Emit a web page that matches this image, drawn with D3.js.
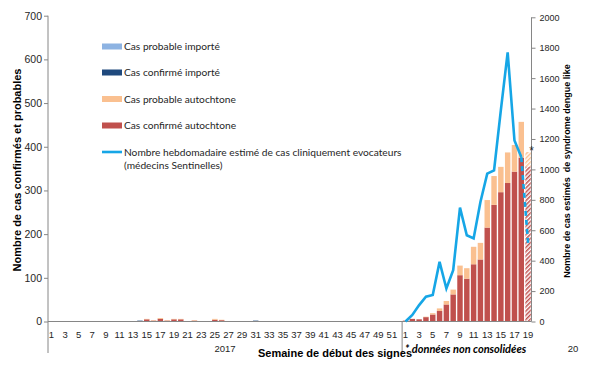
<!DOCTYPE html>
<html><head><meta charset="utf-8">
<script src="https://cdn.jsdelivr.net/npm/d3@7/dist/d3.min.js"></script>
<style>body{margin:0;background:#fff}svg{display:block}</style>
</head><body>
<svg id="chart" width="600" height="366"></svg>
<script>
// ---------- DATA ----------
const weeks2017 = [1,2,3,4,5,6,7,8,9,10,11,12,13,14,15,16,17,18,19,20,21,22,23,24,25,26,27,28,29,30,31,32,33,34,35,36,37,38,39,40,41,42,43,44,45,46,47,48,49,50,51,52];
const weeks2018 = [1,2,3,4,5,6,7,8,9,10,11,12,13,14,15,16,17,18,19];
const years = ["2017", "2018"];
const categories = weeks2017.map(w => "2017-" + w).concat(weeks2018.map(w => "2018-" + w));
const provisionalWeeks = ["2018-19"];

const confirmedAutochtone = [
  0,0,0,0,0,0,0,0,0,0, 0,0,0,0,5,2,6,2,5,5, 1,2,0,0,4,3,0,0,0,0, 1,0,0,0,0,0,0,0,0,0, 0,0,0,0,0,0,0,0,0,0, 0,0,
  2,6,5,10,16,24,39,62,106,98,131,142,215,267,296,317,343,375,355];
const probableAutochtone = [
  0,0,0,0,0,0,0,0,0,0, 0,0,1,0,1,1,2,1,1,1, 0,1,1,0,2,1,1,0,1,0, 0,0,1,0,0,1,0,0,0,0, 0,0,0,0,0,0,0,0,0,0, 0,0,
  0,0,0,1,3,6,8,11,22,24,40,38,63,66,58,70,61,82,33];
const confirmedImported = [
  0,0,1,0,0,0,1,0,1,0, 0,1,0,2,0,0,0,0,0,0, 0,0,0,0,0,0,0,1,0,0, 1,0,0,0,1,0,0,0,0,1, 0,0,0,0,0,0,1,0,1,0, 0,0,
  0,0,0,0,0,0,0,0,0,0,0,0,0,0,0,0,0,0,0];
const probableImported = [
  0,0,0,0,1,0,0,0,0,0, 1,0,0,0,0,0,0,0,0,0, 0,0,0,1,0,0,0,0,0,1, 0,0,0,0,0,0,0,1,0,0, 0,0,0,1,0,0,0,0,0,0, 1,0,
  0,0,0,0,0,0,0,0,0,0,0,0,0,0,0,0,0,0,0];
const sentinelEstimate = [
  null,null,null,null,null,null,null,null,null,null, null,null,null,null,null,null,null,null,null,null,
  null,null,null,null,null,null,null,null,null,null, null,null,null,null,null,null,null,null,null,null,
  null,null,null,null,null,null,null,null,null,null, null,null,
  0,43,108,163,174,392,217,338,749,567,546,786,972,993,1390,1770,1190,1081,515];

const leftTicks = [0,100,200,300,400,500,600,700];
const rightTicks = [0,200,400,600,800,1000,1200,1400,1600,1800,2000];

const seriesNames = {
  probImp: "Cas probable importé",
  confImp: "Cas confirmé importé",
  probAuto: "Cas probable autochtone",
  confAuto: "Cas confirmé autochtone",
  line1: "Nombre hebdomadaire estimé de cas cliniquement evocateurs",
  line2: "(médecins Sentinelles)"
};

// ---------- CHART ----------
const svg = d3.select("#chart");
const colors = {confAuto:"#c0504d", probAuto:"#fac090", confImp:"#1f497d", probImp:"#8db3e2", line:"#16a6e6"};
const axisColor = "#868686", textColor = "#262626";
const x0 = 48, x1 = 531.5, yBase = 321.5;
const arial = "Liberation Sans, Arial, sans-serif";

const defs = svg.append("defs");
[["hatchRed", colors.confAuto], ["hatchOrange", colors.probAuto]].forEach(([id, c]) => {
  const p = defs.append("pattern").attr("id", id).attr("patternUnits", "userSpaceOnUse")
    .attr("width", 3).attr("height", 3).attr("patternTransform", "rotate(45)");
  p.append("rect").attr("width", 3).attr("height", 3).attr("fill", "#fff");
  p.append("rect").attr("width", 1.5).attr("height", 3).attr("fill", c);
});

const x = d3.scaleBand().domain(categories).range([x0, x1]).paddingInner(0.2).paddingOuter(0.1);
const yL = d3.scaleLinear().domain([0, 700]).range([yBase, 15.7]);
const yR = d3.scaleLinear().domain([0, 2000]).range([yBase, 17.3]);

const rows = categories.map((c, i) => ({
  cat: c, confAuto: confirmedAutochtone[i], probAuto: probableAutochtone[i],
  confImp: confirmedImported[i], probImp: probableImported[i]
}));
const keys = ["confAuto", "probAuto", "confImp", "probImp"];
const stacked = d3.stack().keys(keys)(rows);

svg.append("g").selectAll("g").data(stacked).join("g")
  .each(function(layer) {
    d3.select(this).selectAll("rect").data(layer.filter(d => d[1] > d[0])).join("rect")
      .attr("x", d => x(d.data.cat))
      .attr("width", x.bandwidth())
      .attr("y", d => yL(d[1]))
      .attr("height", d => yL(d[0]) - yL(d[1]))
      .attr("fill", d => provisionalWeeks.includes(d.data.cat)
        ? (layer.key === "confAuto" ? "url(#hatchRed)" : "url(#hatchOrange)")
        : colors[layer.key]);
  });

// baseline
svg.append("line").attr("x1", x0).attr("x2", x1).attr("y1", yBase).attr("y2", yBase)
  .attr("stroke", axisColor).attr("stroke-width", 1);

// left axis
const gL = svg.append("g").attr("transform", `translate(${x0},0)`)
  .call(d3.axisLeft(yL).tickValues(leftTicks).tickFormat(d3.format("d")).tickSize(4).tickSizeOuter(0));
gL.select(".domain").remove();
gL.selectAll(".tick line").attr("stroke", axisColor);
gL.selectAll("text").attr("font-family", arial).attr("font-size", 10.5).attr("fill", textColor).attr("x", -6);
svg.append("line").attr("x1", x0).attr("x2", x0).attr("y1", 15.7).attr("y2", 353).attr("stroke", axisColor);

// right axis
const gR = svg.append("g").attr("transform", `translate(${x1},0)`)
  .call(d3.axisRight(yR).tickValues(rightTicks).tickFormat(d3.format("d")).tickSize(4).tickSizeOuter(0));
gR.select(".domain").remove();
gR.selectAll(".tick line").attr("stroke", axisColor);
gR.selectAll("text").attr("font-family", arial).attr("font-size", 9).attr("fill", textColor).attr("x", 8);
svg.append("line").attr("x1", x1).attr("x2", x1).attr("y1", 17.3).attr("y2", yBase).attr("stroke", axisColor);

// year separator
const sep = x("2018-1") - x.step() * x.paddingInner() / 2;
svg.append("line").attr("x1", sep).attr("x2", sep).attr("y1", yBase).attr("y2", 353).attr("stroke", axisColor);

// week tick labels (odd weeks)
svg.append("g").selectAll("text")
  .data(categories.filter(c => (+c.split("-")[1]) % 2 === 1))
  .join("text")
  .attr("x", c => x(c) + x.bandwidth() / 2)
  .attr("y", 337.5)
  .attr("text-anchor", "middle")
  .attr("font-family", arial)
  .attr("font-size", 9.5).attr("fill", textColor)
  .text(c => c.split("-")[1]);

// year labels
svg.append("text").attr("x", (x0 + sep) / 2).attr("y", 352).attr("text-anchor", "middle")
  .attr("font-family", arial).attr("font-size", 9.5).attr("fill", textColor).text(years[0]);
svg.append("text").attr("x", 573).attr("y", 352).attr("text-anchor", "middle")
  .attr("font-family", arial).attr("font-size", 9.5).attr("fill", textColor).text(years[1].slice(0, 2));

// sentinel line
const lineData = categories.map((c, i) => ({cat: c, v: sentinelEstimate[i]}));
const line = d3.line().defined(d => d.v !== null).x(d => x(d.cat) + x.bandwidth() / 2).y(d => yR(d.v));
const solid = lineData.filter(d => !provisionalWeeks.includes(d.cat));
const dashed = lineData.slice(lineData.length - 2);
svg.append("path").attr("d", line(solid)).attr("fill", "none").attr("stroke", colors.line)
  .attr("stroke-width", 2.6).attr("stroke-linejoin", "miter");
svg.append("path").attr("d", line(dashed)).attr("fill", "none").attr("stroke", colors.line)
  .attr("stroke-width", 2.6).attr("stroke-dasharray", "5,4");

// asterisk
svg.append("text").attr("x", 531.5).attr("y", 155).attr("text-anchor", "middle")
  .attr("font-family", arial).attr("font-size", 12).attr("fill", textColor).text("*");

// legend
const legFont = "Lato, 'Noto Sans', sans-serif";
const legItems = [
  {key: "probImp", y: 46.5}, {key: "confImp", y: 72.5},
  {key: "probAuto", y: 99}, {key: "confAuto", y: 125.5}
];
const lg = svg.append("g");
legItems.forEach(it => {
  lg.append("rect").attr("x", 102).attr("y", it.y - 3).attr("width", 20).attr("height", 6).attr("fill", colors[it.key]);
  lg.append("text").attr("x", 124).attr("y", it.y + 3.5).attr("font-family", legFont).attr("font-size", 10.2)
    .attr("fill", textColor).text(seriesNames[it.key]);
});
lg.append("line").attr("x1", 102).attr("x2", 122).attr("y1", 152).attr("y2", 152).attr("stroke", colors.line).attr("stroke-width", 2.6);
lg.append("text").attr("x", 124).attr("y", 155.5).attr("font-family", legFont).attr("font-size", 10.2).attr("fill", textColor).text(seriesNames.line1);
lg.append("text").attr("x", 124).attr("y", 168.5).attr("font-family", legFont).attr("font-size", 10.2).attr("fill", textColor).text(seriesNames.line2);

// axis titles
svg.append("text").attr("transform", "translate(21,170) rotate(-90)").attr("text-anchor", "middle")
  .attr("font-family", arial).attr("font-weight", "bold").attr("font-size", 11)
  .attr("fill", "#000").text("Nombre de cas confirmés et probables");
svg.append("text").attr("transform", "translate(570,171) rotate(-90)").attr("text-anchor", "middle")
  .attr("font-family", arial).attr("font-weight", "bold").attr("font-size", 9)
  .attr("fill", "#000").style("white-space", "pre").text("Nombre de cas estimés  de syndrome dengue like");
svg.append("text").attr("x", 258).attr("y", 357).attr("font-family", arial)
  .attr("font-weight", "bold").attr("font-size", 11).attr("fill", "#000").text("Semaine de début des signes");
svg.append("text").attr("x", 405).attr("y", 353).attr("font-family", legFont)
  .attr("font-weight", "bold").attr("font-style", "italic").attr("font-size", 11).attr("fill", "#000").text("* données non consolidées");
</script>
</body></html>
